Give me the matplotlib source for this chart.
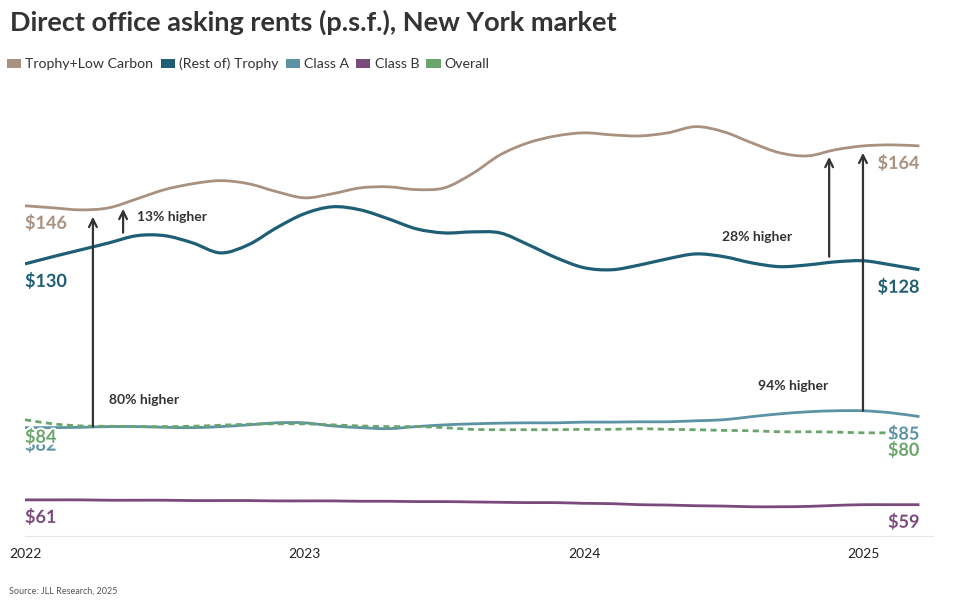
import matplotlib
matplotlib.use("Agg")
import matplotlib.pyplot as plt
import matplotlib.patheffects as pe
from matplotlib.path import Path
from matplotlib.patches import PathPatch, Patch

# Time axis (fractional years) and the series
years = [2022.0, 2022.1, 2022.2, 2022.3, 2022.4, 2022.5, 2022.6, 2022.7, 2022.8, 2022.9,
         2023.0, 2023.1, 2023.2, 2023.3, 2023.4, 2023.5, 2023.6, 2023.7, 2023.8, 2023.9,
         2024.0, 2024.1, 2024.2, 2024.3, 2024.4, 2024.5, 2024.6, 2024.7, 2024.8, 2024.9,
         2025.0, 2025.1, 2025.2]

trophy_low_carbon = [146.0, 145.4, 144.8, 145.4, 148.0, 150.7, 152.4, 153.3, 152.4, 150.1,
                     148.3, 149.5, 151.2, 151.5, 150.7, 151.2, 155.3, 160.8, 164.3, 166.3,
                     167.2, 166.6, 166.3, 167.2, 169.0, 167.5, 164.3, 161.4, 160.5, 162.3,
                     163.4, 163.7, 163.4]
rest_of_trophy = [129.1, 131.2, 133.2, 135.2, 137.3, 137.3, 135.2, 132.3, 134.7, 139.6,
                  143.7, 145.7, 144.8, 142.2, 139.3, 138.1, 138.4, 138.1, 134.7, 130.9,
                  128.0, 127.4, 128.8, 130.6, 132.0, 131.2, 129.4, 128.3, 128.8, 129.7,
                  130.0, 128.8, 127.4]
class_a = [81.5, 81.5, 81.6, 81.8, 81.8, 81.6, 81.5, 81.8, 82.3, 82.9,
           82.9, 82.0, 81.5, 81.2, 81.8, 82.3, 82.6, 82.8, 82.9, 82.9,
           83.1, 83.1, 83.2, 83.2, 83.5, 83.8, 84.7, 85.5, 86.1, 86.4,
           86.4, 85.8, 84.7]
class_b = [60.5, 60.5, 60.5, 60.4, 60.4, 60.4, 60.3, 60.3, 60.3, 60.2,
           60.2, 60.2, 60.1, 60.1, 60.0, 60.0, 59.9, 59.8, 59.7, 59.7,
           59.5, 59.4, 59.1, 59.0, 58.8, 58.7, 58.5, 58.5, 58.6, 58.9,
           59.1, 59.1, 59.1]
overall = [83.8, 82.6, 82.0, 81.9, 81.8, 81.8, 81.9, 82.2, 82.5, 82.6,
           82.6, 82.3, 82.0, 81.8, 81.8, 81.5, 81.0, 80.9, 80.9, 80.9,
           81.0, 81.0, 81.2, 81.0, 80.9, 80.7, 80.6, 80.3, 80.3, 80.2,
           80.0, 80.0, 80.0]

series_names = ["Trophy+Low Carbon", "(Rest of) Trophy", "Class A", "Class B", "Overall"]
series_values = [trophy_low_carbon, rest_of_trophy, class_a, class_b, overall]
colors = ["#a8917f", "#1f5f75", "#5b93a4", "#7b4a7c", "#6aa56c"]
start_labels = ["$146", "$130", "$82", "$61", "$84"]
end_labels = ["$164", "$128", "$85", "$59", "$80"]
tick_years = [2022, 2023, 2024, 2025]

# arrows: (x, tail y, head y) and the text next to them (x, y, text)
arrows = [(2022.351, 138.2, 145.1), (2022.243, 81.8, 142.8),
          (2024.877, 131.2, 160.2), (2024.998, 86.4, 161.4)]
notes = [(2022.401, 142.8, "13% higher"), (2022.300, 89.6, "80% higher"),
         (2024.494, 137.0, "28% higher"), (2024.623, 93.7, "94% higher")]

FONT = "Lato"
DARK = "#333333"


def smooth_path(x, y):
    # Catmull-Rom through the points, as cubic bezier segments
    verts = [(x[0], y[0])]
    codes = [Path.MOVETO]
    n = len(x)
    for i in range(n - 1):
        i0, i3 = max(i - 1, 0), min(i + 2, n - 1)
        c1 = (x[i] + (x[i + 1] - x[i0]) / 6, y[i] + (y[i + 1] - y[i0]) / 6)
        c2 = (x[i + 1] - (x[i3] - x[i]) / 6, y[i + 1] - (y[i3] - y[i]) / 6)
        verts += [c1, c2, (x[i + 1], y[i + 1])]
        codes += [Path.CURVE4] * 3
    return Path(verts, codes)


fig = plt.figure(figsize=(9.66, 6.06), dpi=100)
ax = fig.add_axes([25 / 966, 70 / 606, 908.4 / 966, 430 / 606])
ax.set_xlim(2022, 2025.25)
ax.set_ylim(50, 175)

widths = [2.0, 2.3, 2.0, 2.0, 2.0]
for name, vals, col, lw in zip(series_names, series_values, colors, widths):
    ls = (0, (2.2, 1.6)) if name == "Overall" else "-"
    z = 4 if name == "Overall" else 3
    ax.add_patch(PathPatch(smooth_path(years, vals), fill=False, ec=col, lw=lw,
                           ls=ls, zorder=z, capstyle="butt"))

halo = [pe.withStroke(linewidth=3, foreground="white")]
for i in range(len(series_names)):
    vals = series_values[i]
    ax.annotate(start_labels[i], (years[0], vals[0]), xytext=(0, -17),
                textcoords="offset pixels", ha="left", va="center", fontsize=13,
                color=colors[i], fontfamily=FONT, fontweight="bold",
                path_effects=halo, zorder=6)
    ax.annotate(end_labels[i], (years[-1], vals[-1]), xytext=(0, -17),
                textcoords="offset pixels", ha="right", va="center", fontsize=13,
                color=colors[i], fontfamily=FONT, fontweight="bold",
                path_effects=halo, zorder=6)

for x, y0, y1 in arrows:
    ax.annotate("", xy=(x, y1), xytext=(x, y0),
                arrowprops=dict(arrowstyle="->", lw=1.6, color=DARK,
                                shrinkA=0, shrinkB=0, mutation_scale=14), zorder=5)
for x, y, t in notes:
    ax.text(x, y, t, ha="left", va="center", fontsize=10, fontweight="bold",
            color=DARK, fontfamily=FONT, zorder=6)

for s in ["top", "right", "left"]:
    ax.spines[s].set_visible(False)
ax.spines["bottom"].set_color("#e6e6e6")
ax.set_yticks([])
ax.set_xticks(tick_years)
ax.set_xticklabels([str(t) for t in tick_years], fontsize=10, color="#222222",
                   fontfamily=FONT)
ax.tick_params(axis="x", length=0, pad=9)

fig.text(10 / 966, 1 - 22 / 606, "Direct office asking rents (p.s.f.), New York market",
         ha="left", va="center", fontsize=19.5, fontweight="bold", color=DARK,
         fontfamily=FONT)

handles = [Patch(facecolor=c, edgecolor="none") for c in colors]
fig.legend(handles, series_names, loc="center left", bbox_to_anchor=(0.0, 1 - 64 / 606),
           ncol=5, frameon=False, handlelength=1.0, handleheight=0.6,
           handletextpad=0.3, columnspacing=0.5, borderpad=0.2, borderaxespad=0.3,
           prop={"family": FONT, "size": 10.2}, labelcolor=DARK)

fig.text(9 / 966, 1 - 591 / 606, "Source: JLL Research, 2025", ha="left", va="center",
         fontsize=6.5, color="#555555", fontfamily=FONT)

fig.savefig("out.png", dpi=100)
